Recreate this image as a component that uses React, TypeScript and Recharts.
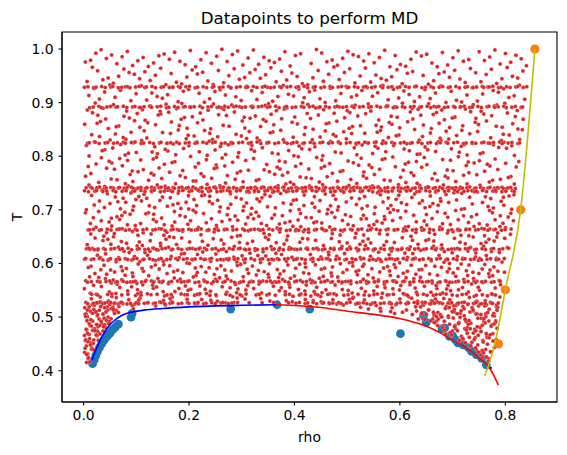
import { ReferenceArea, Scatter, ScatterChart, XAxis, YAxis } from "recharts"

// axes
const xDomain = [-0.041, 0.898]
const yDomain = [0.3416, 1.0317]
const xTicks = [0, 0.2, 0.4, 0.6, 0.8]
const yTicks = [0.4, 0.5, 0.6, 0.7, 0.8, 0.9, 1.0]

// coexistence data (blue dots)
const coexRho = [0.017, 0.02, 0.023, 0.026, 0.03, 0.034, 0.038, 0.042, 0.046, 0.05, 0.055, 0.06, 0.066, 0.09, 0.092,
  0.279, 0.367, 0.429, 0.601, 0.645, 0.65, 0.68, 0.685, 0.694, 0.70, 0.705, 0.71, 0.72, 0.73, 0.736, 0.745, 0.755, 0.764]
const coexT = [0.413, 0.42, 0.428, 0.435, 0.443, 0.45, 0.456, 0.461, 0.466, 0.47, 0.476, 0.481, 0.487, 0.5, 0.507,
  0.515, 0.523, 0.515, 0.469, 0.503, 0.49, 0.478, 0.48, 0.464, 0.465, 0.458, 0.452, 0.448, 0.443, 0.436, 0.43, 0.423, 0.411]

// fitted curves
const blueLineRho = [0.0157, 0.02, 0.026, 0.035, 0.047, 0.06, 0.074, 0.09, 0.115, 0.15, 0.2, 0.3, 0.365]
const blueLineT = [0.419, 0.431, 0.445, 0.464, 0.482, 0.495, 0.504, 0.509, 0.513, 0.516, 0.519, 0.522, 0.523]
const redLineRho = [0.365, 0.45, 0.5, 0.55, 0.601, 0.644, 0.67, 0.698, 0.725, 0.75, 0.77, 0.787]
const redLineT = [0.523, 0.518, 0.511, 0.505, 0.497, 0.485, 0.474, 0.458, 0.443, 0.424, 0.405, 0.373]
const solidRho = [0.761, 0.78, 0.80, 0.829, 0.856]
const solidT = [0.39, 0.45, 0.551, 0.70, 1.0]

// melting points (orange dots)
const meltRho = [0.856, 0.829, 0.80, 0.787]
const meltT = [1.0, 0.70, 0.551, 0.45]
const crossRho = [0.772]
const crossT = [0.405]

// MD sample cloud (red dots): regions with the number of samples counted in each,
// plus the isotherms that were sampled densely
const cloudRhoMin = 0.001
const edgeT = [0.40, 0.45, 0.55, 0.66, 0.74, 0.93, 1.0]
const edgeRho = [0.765, 0.782, 0.792, 0.815, 0.822, 0.842, 0.846]
const regionRhoFrom = [0, 0, 0, 0, 0, 0.63]
const regionRhoTo = [0.85, 0.85, 0.85, 0.85, 0.07, 0.79]
const regionTFrom = [0.9, 0.75, 0.6, 0.41, 0.41, 0.41]
const regionTTo = [1.0, 0.9, 0.75, 0.6, 0.53, 0.53]
const regionCount = [250, 460, 600, 940, 120, 170]
const isoT = [0.929, 0.892, 0.825, 0.741, 0.735, 0.663, 0.627, 0.608, 0.566, 0.542, 0.526]
const isoStep = [0.008, 0.008, 0.0085, 0.0065, 0.009, 0.0085, 0.008, 0.008, 0.0085, 0.014, 0.008]

const toPoints = (xs: number[], ys: number[]) => xs.map((x, i) => ({ x, y: ys[i] }))

function interp(xs: number[], ys: number[], v: number) {
  if (v <= xs[0]) return ys[0]
  for (let i = 1; i < xs.length; i++) {
    if (v <= xs[i]) return ys[i - 1] + ((v - xs[i - 1]) / (xs[i] - xs[i - 1])) * (ys[i] - ys[i - 1])
  }
  return ys[ys.length - 1]
}

const domeRho = [...blueLineRho, ...redLineRho.slice(1)]
const domeT = [...blueLineT, ...redLineT.slice(1)]
const domeAt = (rho: number) => (rho < domeRho[0] ? 0 : interp(domeRho, domeT, rho))

// low-discrepancy sampling positions for spreading a region's count over it
function halton(i: number, base: number) {
  let f = 1
  let r = 0
  while (i > 0) {
    f /= base
    r += f * (i % base)
    i = Math.floor(i / base)
  }
  return r
}

const inCloud = (rho: number, T: number) =>
  T <= 1.0 && T >= 0.41 && rho >= cloudRhoMin && rho <= interp(edgeT, edgeRho, T) && T >= domeAt(rho) + 0.004

const cloud: { x: number; y: number }[] = []
regionCount.forEach((n, g) => {
  for (let i = 1; i <= n; i++) {
    const k = i + g * 977
    const rho = regionRhoFrom[g] + halton(k, 2) * (regionRhoTo[g] - regionRhoFrom[g])
    const T = regionTFrom[g] + halton(k, 3) * (regionTTo[g] - regionTFrom[g])
    if (inCloud(rho, T)) cloud.push({ x: rho, y: T })
  }
})
isoT.forEach((t, j) => {
  const step = isoStep[j]
  let i = 0
  for (let r = halton(j + 1, 5) * step; r <= 0.86; r += step, i++) {
    const rho = r + (halton(i + 7 * j + 1, 2) - 0.5) * step * 0.7
    const T = t + (halton(i + 7 * j + 1, 3) - 0.5) * 0.003
    if (inCloud(rho, T)) cloud.push({ x: rho, y: T })
  }
})

const coex = toPoints(coexRho, coexT)
const blueLine = toPoints(blueLineRho, blueLineT)
const redLine = toPoints(redLineRho, redLineT)
const solidLine = toPoints(solidRho, solidT)
const melt = toPoints(meltRho, meltT)
const cross = toPoints(crossRho, crossT)

const dot = (r: number, fill: string) => (p: any) => <circle cx={p.cx} cy={p.cy} r={r} fill={fill} />
const redDot = (p: any) => (
  <circle cx={p.cx} cy={p.cy} r={2} fill="#d62728" stroke="#fff" strokeOpacity={0.45} strokeWidth={0.5} />
)
const noDot = () => <g />

const axisFont = { fill: "#000", fontSize: 13.9, fontFamily: "DejaVu Sans" }

export default function App() {
  return (
    <div style={{ position: "absolute", left: 0, top: 0, width: 567, height: 455, background: "#fff" }}>
      <div style={{ position: "absolute", left: 62, top: 8, width: 495, textAlign: "center",
        font: "16.7px 'DejaVu Sans'", lineHeight: "20px", color: "#000" }}>
        Datapoints to perform MD
      </div>
      <ScatterChart width={567} height={455} margin={{ top: 32, right: 10, bottom: 0, left: 0 }}
        style={{ fontFamily: "DejaVu Sans" }}>
        <XAxis type="number" dataKey="x" domain={xDomain} ticks={xTicks} allowDataOverflow height={53}
          tick={axisFont} tickSize={3.5} tickMargin={4.9} tickFormatter={(v: number) => v.toFixed(1)}
          axisLine={{ stroke: "#000", strokeWidth: 1.1 }} tickLine={{ stroke: "#000", strokeWidth: 1.1 }}
          label={{ value: "rho", position: "insideBottom", offset: 13, fill: "#000", fontSize: 13.9 }} />
        <YAxis type="number" dataKey="y" domain={yDomain} ticks={yTicks} allowDataOverflow width={62}
          tick={axisFont} tickSize={3.5} tickMargin={4.9} tickFormatter={(v: number) => v.toFixed(1)}
          axisLine={{ stroke: "#000", strokeWidth: 1.1 }} tickLine={{ stroke: "#000", strokeWidth: 1.1 }}
          label={{ value: "T", angle: -90, position: "insideLeft", offset: 17, fill: "#000", fontSize: 13.9,
            style: { textAnchor: "middle" } }} />
        <Scatter data={coex} shape={dot(4.4, "#1f77b4")} isAnimationActive={false} />
        <Scatter data={cloud} shape={redDot} isAnimationActive={false} />
        <Scatter data={melt} shape={dot(4.6, "#ff7f0e")} isAnimationActive={false} />
        <Scatter data={cross} shape={dot(1.3, "#000")} isAnimationActive={false} />
        <Scatter data={blueLine} line={{ stroke: "#0000ff", strokeWidth: 1.6 }} lineType="joint"
          lineJointType="monotoneX" shape={noDot} isAnimationActive={false} />
        <Scatter data={redLine} line={{ stroke: "#ff0000", strokeWidth: 1.6 }} lineType="joint"
          lineJointType="monotoneX" shape={noDot} isAnimationActive={false} />
        <Scatter data={solidLine} line={{ stroke: "#bfbf00", strokeWidth: 1.6 }} lineType="joint"
          lineJointType="monotoneX" shape={noDot} isAnimationActive={false} />
        <ReferenceArea x1={xDomain[0]} x2={xDomain[1]} y1={yDomain[0]} y2={yDomain[1]}
          fill="none" fillOpacity={0} stroke="#000" strokeWidth={1.1} />
      </ScatterChart>
    </div>
  )
}
